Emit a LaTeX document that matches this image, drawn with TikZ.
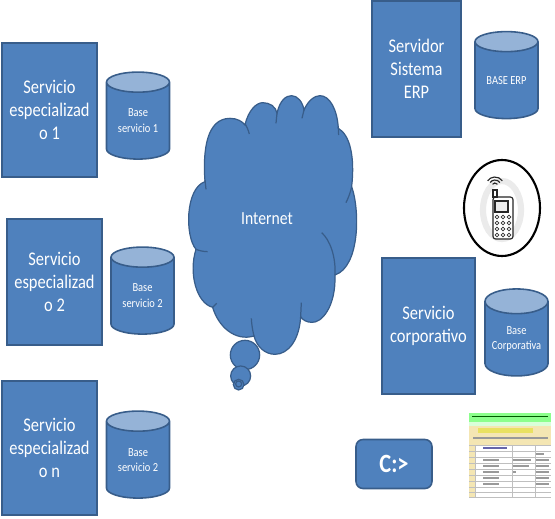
\documentclass[tikz,border=0pt]{standalone}
\usepackage{fontspec}
\setmainfont[FakeStretch=0.85]{Carlito}
\usepackage{xcolor}
\usetikzlibrary{shapes.geometric}
\definecolor{mainc}{HTML}{4F81BD}
\definecolor{edgec}{HTML}{385D8A}
\definecolor{topc}{HTML}{95B3D7}
\tikzset{
  srv/.style={draw=edgec,line width=0.6pt,fill=mainc,text=white,align=center,font=\fontsize{11}{13.2}\selectfont,minimum width=1.9cm,minimum height=2.68cm,inner sep=0pt},
  db/.style={shape=cylinder,shape border rotate=90,shape aspect=0.5,draw=edgec,line width=0.9pt,cylinder uses custom fill,cylinder body fill=mainc,cylinder end fill=topc,text=white,align=center,font=\fontsize{7}{9}\selectfont,minimum width=1.26cm,minimum height=1.74cm,inner sep=0pt},
  bubble/.style={draw=edgec,line width=0.7pt,fill=mainc},
  stub/.style={edgec,line width=0.7pt},
  key/.style={draw=black!80,line width=0.4pt,fill=white},
  phn/.style={black!85,line width=0.65pt},
  rowl/.style={black!25,line width=0.25pt},
  txtl/.style={black!40,line width=0.6pt}
}
\begin{document}
\begin{tikzpicture}[x=0.02cm,y=-0.02cm]
\useasboundingbox (0,0) rectangle (555,518);
% servicios
\node[srv] (s1) at (49.5,110) {Servicio\\especializad\\o 1};
\node[srv,minimum height=2.52cm] (s2) at (54.5,282) {Servicio\\especializad\\o 2};
\node[srv] (s3) at (49.5,448) {Servicio\\especializad\\o n};
\node[srv,minimum width=1.78cm,minimum height=2.72cm] (erp) at (416.5,69) {Servidor\\Sistema\\ERP};
\node[srv,minimum width=1.86cm,minimum height=2.72cm] (corp) at (428.5,326) {Servicio\\corporativo};
% bases
\node[db] (b1) at (138,121) {Base\\servicio 1};
\node[db] (b2) at (142.5,296) {Base\\servicio 2};
\node[db] (b3) at (138,460) {Base\\servicio 2};
\node[db] (berp) at (506.5,80.5) {BASE ERP};
\node[db] (bcorp) at (516.5,339) {Base\\Corporativa};
% nube
\begin{scope}[shift={(180,90)},scale=0.3333]
\draw[bubble] (195,795) circle (44);
\draw[bubble] (182,858) circle (30);
\draw[bubble] (176,884) circle (16);
\draw[stub] (176,882) circle (9);
\draw[bubble] (75,275) .. controls (68,180) and (80,85) .. (150,85)
  .. controls (172,85) and (188,95) .. (195,105)
  .. controls (205,60) and (230,38) .. (248,38)
  .. controls (270,38) and (288,50) .. (291,70)
  .. controls (300,30) and (318,17) .. (335,17)
  .. controls (352,17) and (368,35) .. (372,60)
  .. controls (385,30) and (405,17) .. (420,17)
  .. controls (450,17) and (472,60) .. (475,115)
  .. controls (510,135) and (525,200) .. (515,290)
  .. controls (540,360) and (540,530) .. (465,555)
  .. controls (468,650) and (425,700) .. (395,697)
  .. controls (380,697) and (368,690) .. (362,680)
  .. controls (358,750) and (325,793) .. (285,793)
  .. controls (255,793) and (230,770) .. (222,738)
  .. controls (165,755) and (115,710) .. (98,652)
  .. controls (50,640) and (25,550) .. (48,478)
  .. controls (15,440) and (15,295) .. (75,275) -- cycle;
\draw[stub] (195,100) .. controls (200,110) and (205,120) .. (208,132);
\draw[stub] (75,270) -- (78,298);
\draw[stub] (291,70) -- (288,100);
\draw[stub] (372,60) -- (366,85);
\draw[stub] (475,110) -- (476,135);
\draw[stub] (515,290) .. controls (512,305) and (506,322) .. (498,338);
\draw[stub] (465,555) .. controls (468,500) and (450,450) .. (425,428);
\draw[stub] (362,680) -- (364,638);
\draw[stub] (222,738) .. controls (218,722) and (215,705) .. (214,685);
\draw[stub] (98,652) -- (110,640);
\draw[stub] (48,478) .. controls (58,482) and (70,485) .. (83,485);
\node[text=white,font=\fontsize{10.5}{13}\selectfont] (inet) at (261,387) {Internet};
\end{scope}
% telefono
\draw[black,line width=1.2pt,fill=white] (502,208) ellipse (38 and 48);
\draw[black!8,line width=3.5pt] (502,210) ellipse (19 and 29);
\draw[phn,fill=white,rounded corners=1.5pt] (493,197) rectangle (513,239);
\draw[phn,fill=white] (493,190) rectangle (497,197);
\draw[phn] (495,186) ++(-35:3) arc (-35:-145:3);
\draw[phn] (495,186) ++(-35:6) arc (-35:-145:6);
\draw[phn] (495,186) ++(-35:9) arc (-35:-145:9);
\draw[phn,fill=black!8] (495,201) rectangle (508,212);
\foreach \kx in {497,503,509} {
  \foreach \ky in {217,223,229,235} {
    \draw[key] (\kx,\ky) circle (1.9);
  }
}
% consola
\node[draw=edgec,line width=0.9pt,fill=mainc,rounded corners=4pt,text=white,minimum width=1.52cm,minimum height=0.98cm,inner sep=0pt,font=\fontsize{15}{17}\selectfont\bfseries] (cons) at (394,464) {C:>};
% hoja de calculo
\fill[white] (469,413) rectangle (551,497);
\fill[green!45!white] (469,413) rectangle (551,422);
\fill[green!15!white] (469,422) rectangle (551,426);
\fill[yellow!45!brown!35!white] (469,426) rectangle (551,445);
\fill[yellow!65!white!90!black] (478,428) rectangle (533,433);
\fill[yellow!45!brown!35!white] (469,445) rectangle (475,497);
\draw[txtl,green!35!black] (472,416.5) -- (548,416.5);
\draw[txtl] (473,438) -- (548,438);
\foreach \ry in {445,451,457,463,469,475,481,487,492,497} {
  \draw[rowl] (469,\ry) -- (551,\ry);
}
\foreach \cx in {475,512,535} {
  \draw[rowl] (\cx,445) -- (\cx,497);
}
\draw[txtl,blue!45!black!60] (483,448) -- (507,448);
\draw[txtl] (536,454) -- (544,454);
\foreach \ry in {460,466,472,478,484} {
  \draw[txtl] (483,\ry) -- (499,\ry);
  \draw[txtl] (536,\ry) -- (549,\ry);
}
\draw[txtl] (513,460) -- (531,460);
\draw[txtl] (513,466) -- (529,466);
\draw[txtl] (513,472) -- (516,472);
\end{tikzpicture}
\end{document}
